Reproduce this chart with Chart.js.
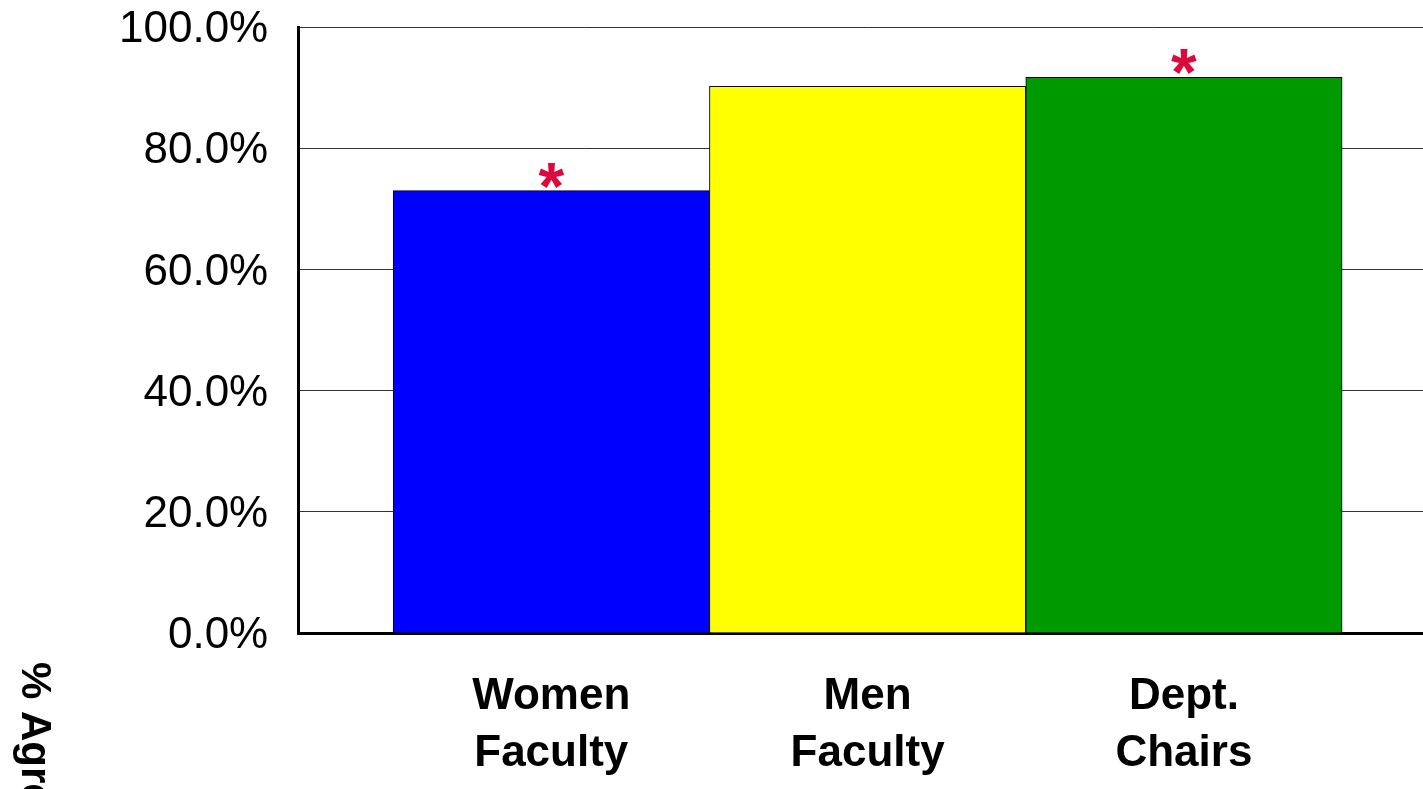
<!DOCTYPE html>
<html>
<head>
<meta charset="utf-8">
<title>Agreement by group</title>
<script src="https://cdn.jsdelivr.net/npm/chart.js@4/dist/chart.umd.min.js"></script>
<style>
    html, body { margin: 0; padding: 0; background: #fff; overflow: hidden; }
    #wrap { width: 1460px; height: 789px; }
</style>
</head>
<body>
<div id="wrap"><canvas id="agreeChart" width="1460" height="789"></canvas></div>
<script>
// 그룹별 동의 비율 데이터
const groupLabels = [['Women', 'Faculty'], ['Men', 'Faculty'], ['Dept.', 'Chairs']];
const agreePercents = [73.0, 90.2, 91.7];
const barColors = ['#0000ff', '#ffff00', '#009900'];
const starMarks = ['*', '', '*'];
const yTicks = [0, 20, 40, 60, 80, 100];
const yAxisTitle = '% Agree';

const FONT = "'Liberation Sans', Arial, sans-serif";

// 막대 위 유의성 표시(*)
const starPlugin = {
    id: 'starPlugin',
    afterDatasetsDraw(chart) {
        const ctx = chart.ctx;
        const xs = chart.scales.x;
        const ys = chart.scales.y;
        ctx.save();
        ctx.fillStyle = '#dc0a3c';
        ctx.font = 'bold 66px ' + FONT;
        ctx.textAlign = 'center';
        ctx.textBaseline = 'alphabetic';
        starMarks.forEach((mark, i) => {
            if (!mark) return;
            const x = xs.getPixelForValue(i);
            const y = ys.getPixelForValue(agreePercents[i]);
            ctx.fillText(mark, x, y + 18);
        });
        ctx.restore();
    }
};

// 세로축 제목 (위에서 아래로 읽는 방향)
const axisTitlePlugin = {
    id: 'axisTitlePlugin',
    afterDraw(chart) {
        const ctx = chart.ctx;
        ctx.save();
        ctx.translate(22, 662);
        ctx.rotate(Math.PI / 2);
        ctx.fillStyle = '#000';
        ctx.font = 'bold 42px ' + FONT;
        ctx.textAlign = 'left';
        ctx.textBaseline = 'alphabetic';
        ctx.fillText(yAxisTitle, 0, 0);
        ctx.restore();
    }
};

const chartData = {
    datasets: [{
        label: yAxisTitle,
        data: agreePercents.map((v, i) => ({ x: i, y: v })),
        backgroundColor: barColors,
        borderColor: '#000',
        borderWidth: 1,
        borderSkipped: 'bottom',
        categoryPercentage: 1,
        barPercentage: 1
    }]
};

const ctx = document.getElementById('agreeChart').getContext('2d');
new Chart(ctx, {
    type: 'bar',
    data: chartData,
    plugins: [starPlugin, axisTitlePlugin],
    options: {
        responsive: false,
        animation: false,
        layout: {
            padding: { left: 89, top: 0, right: 23, bottom: 6 }
        },
        plugins: {
            legend: { display: false },
            tooltip: { enabled: false }
        },
        scales: {
            x: {
                type: 'linear',
                min: -0.8,
                max: 2.8,
                offset: false,
                afterBuildTicks: axis => {
                    axis.ticks = groupLabels.map((_, i) => ({ value: i }));
                },
                afterFit: axis => {
                    axis.height = 150;
                },
                grid: { display: false, drawTicks: false, offset: false },
                border: { display: true, color: '#000', width: 3 },
                ticks: {
                    padding: 35,
                    color: '#000',
                    font: { family: FONT, size: 44, weight: 'bold', lineHeight: 1.3 },
                    maxRotation: 0,
                    autoSkip: false,
                    callback: value => groupLabels[value]
                }
            },
            y: {
                min: 0,
                max: 100,
                afterBuildTicks: axis => {
                    axis.ticks = yTicks.map(v => ({ value: v }));
                },
                afterFit: axis => {
                    // 위쪽 여백을 직접 지정
                    axis.paddingTop = 27;
                    axis.paddingBottom = 0;
                },
                grid: { color: '#333', lineWidth: 1, drawTicks: false },
                border: { display: true, color: '#000', width: 3 },
                ticks: {
                    padding: 30,
                    labelOffset: 3,
                    color: '#000',
                    font: { family: FONT, size: 44 },
                    callback: value => value.toFixed(1) + '%'
                }
            }
        }
    }
});
</script>
</body>
</html>
